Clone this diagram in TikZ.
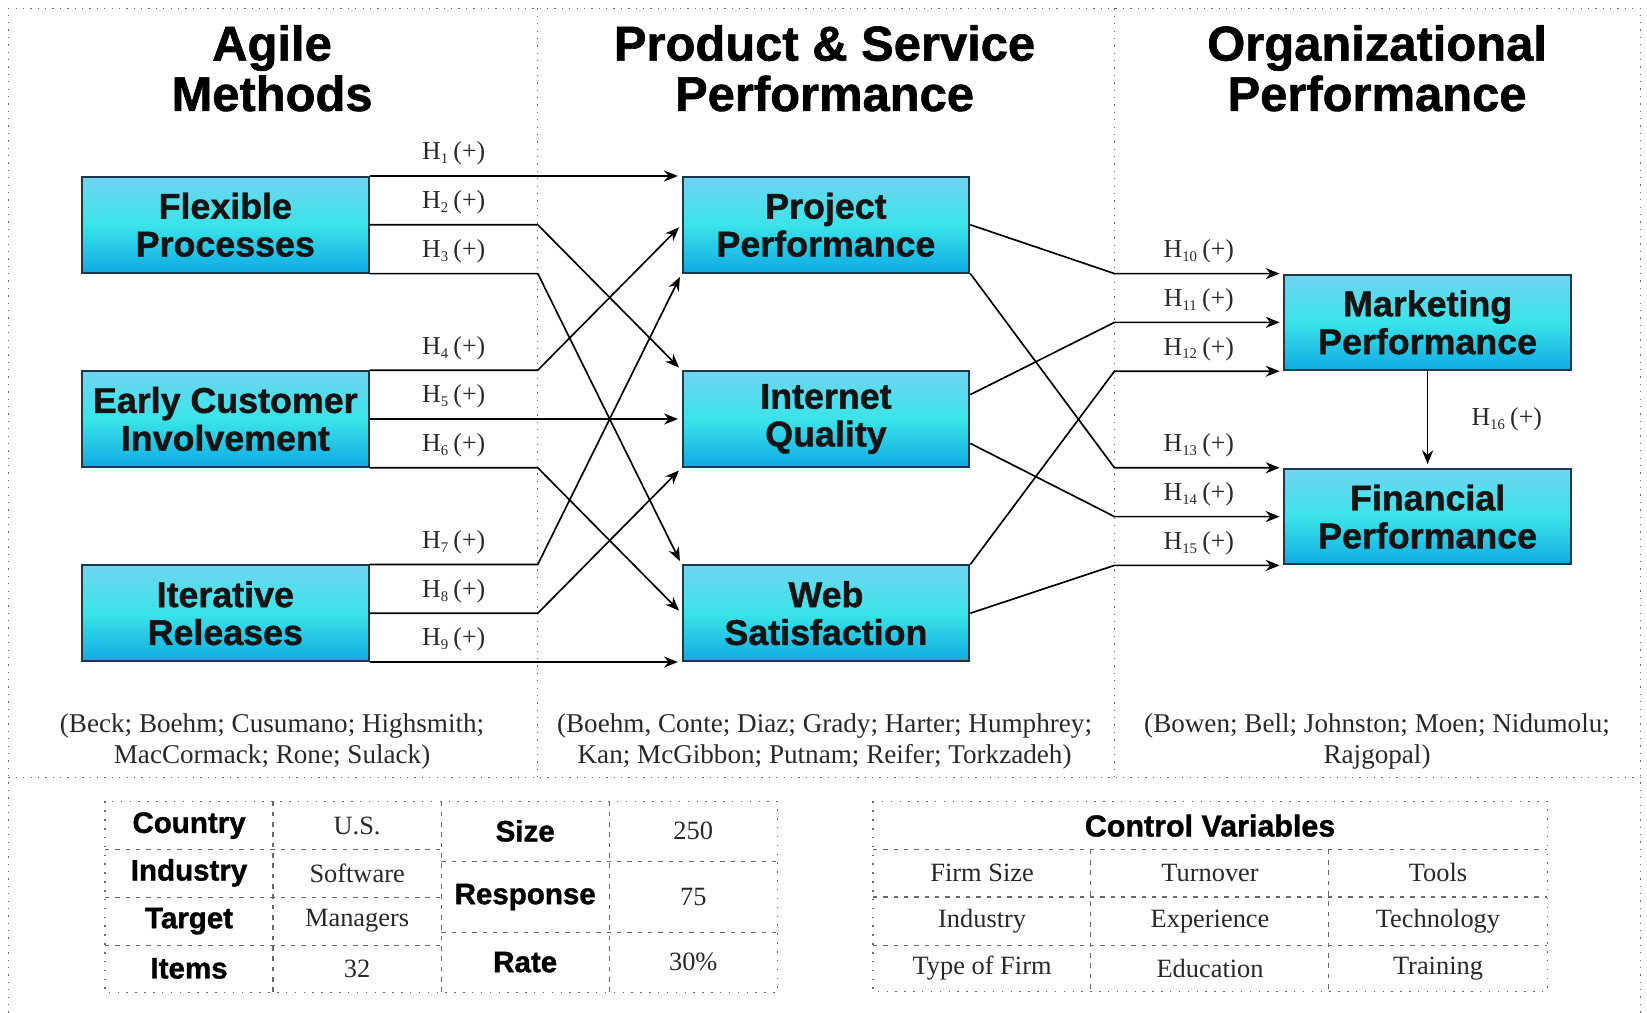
\documentclass[tikz,border=0pt]{standalone}
\usepackage{fontspec}
\setmainfont{Liberation Serif}
\setsansfont{Liberation Sans}[BoldFeatures={FakeBold=1.2}]
\usepackage{tikz}
\usetikzlibrary{arrows.meta, positioning, calc}
\definecolor{boxtop}{RGB}{112, 212, 242}
\definecolor{boxmid}{RGB}{58, 228, 232}
\definecolor{boxbot}{RGB}{16, 170, 228}
\definecolor{boxedge}{RGB}{26, 58, 74}
\definecolor{gridline}{RGB}{105, 105, 105}
\definecolor{note}{RGB}{40, 40, 40}
\newcommand{\hnum}[1]{H\textsubscript{\fontsize{8}{8}\selectfont #1}\,(+)}

\begin{document}
\begin{tikzpicture}[x=0.02cm, y=-0.02cm,
    factor/.style={rectangle, draw=boxedge, line width=1.1pt, top color=boxtop, bottom color=boxbot, middle color=boxmid, minimum width=5.46cm, minimum height=1.82cm, align=center, text=black!92, font=\sffamily\bfseries\fontsize{19.4}{20.5}\selectfont},
    heading/.style={align=center, font=\sffamily\bfseries\fontsize{26.5}{27.3}\selectfont},
    hyp/.style={above=2pt, text=note, font=\fontsize{14}{16}\selectfont},
    cite/.style={align=center, text=note, font=\fontsize{14.7}{17.1}\selectfont},
    link/.style={-{Stealth[length=7.5pt, width=6pt]}, line width=0.9pt, shorten >=2pt},
    panel/.style={draw=gridline, line width=0.7pt, dash pattern=on 0.7pt off 3.3pt},
    cellout/.style={draw=gridline, line width=0.7pt, dash pattern=on 0.8pt off 4pt},
    cellin/.style={draw=gridline, line width=0.7pt, dash pattern=on 2.4pt off 3.2pt},
    tabkey/.style={font=\sffamily\bfseries\fontsize{16}{18}\selectfont},
    tabval/.style={text=note, font=\fontsize{14.3}{16}\selectfont}
]
    \useasboundingbox (0,0) rectangle (1568,964);

    % panels
    \draw[panel] (8,964) -- (8,8) -- (1562,8) -- (1562,964);
    \draw[panel] (8,740) -- (1562,740);
    \draw[panel] (512,8) -- (512,740);
    \draw[panel] (1061,8) -- (1061,740);
    \coordinate (lsplit) at (512,0);
    \coordinate (rsplit) at (1061,0);

    \node[heading] (hagile) at (259,65) {Agile\\Methods};
    \node[heading] (hproduct) at (785,65) {Product \& Service\\Performance};
    \node[heading] (horg) at (1311,65) {Organizational\\Performance};

    % constructs
    \node[factor] (fp) at (214.5,214) {Flexible\\Processes};
    \node[factor, below=1.84cm of fp] (eci) {Early Customer\\Involvement};
    \node[factor, below=1.84cm of eci] (ir) {Iterative\\Releases};

    \node[factor, right=5.94cm of fp] (pp) {Project\\Performance};
    \node[factor, right=5.94cm of eci] (iq) {Internet\\Quality};
    \node[factor, right=5.94cm of ir] (ws) {Web\\Satisfaction};

    \node[factor, below right=0cm and 5.96cm of pp] (mp) {Marketing\\Performance};
    \node[factor, below=1.84cm of mp] (fin) {Financial\\Performance};

    % hypotheses
    \draw[link] (fp.north east) -- node[hyp] {\hnum{1}} (fp.north east -| lsplit) -- (pp.north west);
    \draw[link] (fp.east) -- node[hyp] {\hnum{2}} (fp.east -| lsplit) -- (iq.north west);
    \draw[link] (fp.south east) -- node[hyp] {\hnum{3}} (fp.south east -| lsplit) -- (ws.north west);
    \draw[link] (eci.north east) -- node[hyp] {\hnum{4}} (eci.north east -| lsplit) -- (pp.west);
    \draw[link] (eci.east) -- node[hyp] {\hnum{5}} (eci.east -| lsplit) -- (iq.west);
    \draw[link] (eci.south east) -- node[hyp] {\hnum{6}} (eci.south east -| lsplit) -- (ws.west);
    \draw[link] (ir.north east) -- node[hyp] {\hnum{7}} (ir.north east -| lsplit) -- (pp.south west);
    \draw[link] (ir.east) -- node[hyp] {\hnum{8}} (ir.east -| lsplit) -- (iq.south west);
    \draw[link] (ir.south east) -- node[hyp] {\hnum{9}} (ir.south east -| lsplit) -- (ws.south west);

    \draw[link] (pp.east) -- (mp.north west -| rsplit) -- node[hyp] {\hnum{10}} (mp.north west);
    \draw[link] ($(iq.north east)!0.25!(iq.south east)$) -- (mp.west -| rsplit) -- node[hyp] {\hnum{11}} (mp.west);
    \draw[link] (ws.north east) -- (mp.south west -| rsplit) -- node[hyp] {\hnum{12}} (mp.south west);
    \draw[link] (pp.south east) -- (fin.north west -| rsplit) -- node[hyp] {\hnum{13}} (fin.north west);
    \draw[link] ($(iq.north east)!0.75!(iq.south east)$) -- (fin.west -| rsplit) -- node[hyp] {\hnum{14}} (fin.west);
    \draw[link] (ws.east) -- (fin.south west -| rsplit) -- node[hyp] {\hnum{15}} (fin.south west);
    \draw[link] (mp.south) -- node[hyp, right=20pt] {\hnum{16}} (fin.north);

    \node[cite] (cagile) at (259,706) {(Beck; Boehm; Cusumano; Highsmith;\\MacCormack; Rone; Sulack)};
    \node[cite] (cproduct) at (785,706) {(Boehm, Conte; Diaz; Grady; Harter; Humphrey;\\Kan; McGibbon; Putnam; Reifer; Torkzadeh)};
    \node[cite] (corg) at (1311,706) {(Bowen; Bell; Johnston; Moen; Nidumolu;\\Rajgopal)};

    % sample
    \draw[cellout] (100,763) rectangle (740,945);
    \draw[cellin] (260,763) -- (260,945) (420,763) -- (420,945) (580,763) -- (580,945);
    \draw[cellin] (100,809) -- (420,809) (100,854.5) -- (420,854.5) (100,900) -- (420,900);
    \draw[cellin] (420,820) -- (740,820) (420,888) -- (740,888);

    \node[tabkey] (country) at (180,786) {Country};
    \node[tabval] (us) at (340,786) {U.S.};
    \node[tabkey] (industry) at (180,831) {Industry};
    \node[tabval] (software) at (340,831) {Software};
    \node[tabkey] (target) at (180,877) {Target};
    \node[tabval] (managers) at (340,877) {Managers};
    \node[tabkey] (items) at (180,922) {Items};
    \node[tabval] (nitems) at (340,922) {32};
    \node[tabkey] (size) at (500,791) {Size};
    \node[tabval] (nsize) at (660,791) {250};
    \node[tabkey] (response) at (500,854) {Response};
    \node[tabval] (nresp) at (660,854) {75};
    \node[tabkey] (rate) at (500,916) {Rate};
    \node[tabval] (nrate) at (660,916) {30\%};

    % controls
    \draw[cellout] (831,763) rectangle (1473,944);
    \draw[cellin] (831,809) -- (1473,809) (831,854) -- (1473,854) (831,900) -- (1473,900);
    \draw[cellin] (1038.5,809) -- (1038.5,944) (1265,809) -- (1265,944);

    \node[tabkey, font=\sffamily\bfseries\fontsize{16.5}{18}\selectfont] (ctrl) at (1152,786) {Control Variables};
    \node[tabval] (firmsize) at (935,831) {Firm Size};
    \node[tabval] (turnover) at (1152,831) {Turnover};
    \node[tabval] (tools) at (1369,831) {Tools};
    \node[tabval] (cindustry) at (935,877) {Industry};
    \node[tabval] (experience) at (1152,877) {Experience};
    \node[tabval] (technology) at (1369,877) {Technology};
    \node[tabval] (firmtype) at (935,922) {Type of Firm};
    \node[tabval] (education) at (1152,922) {Education};
    \node[tabval] (training) at (1369,922) {Training};
\end{tikzpicture}
\end{document}
